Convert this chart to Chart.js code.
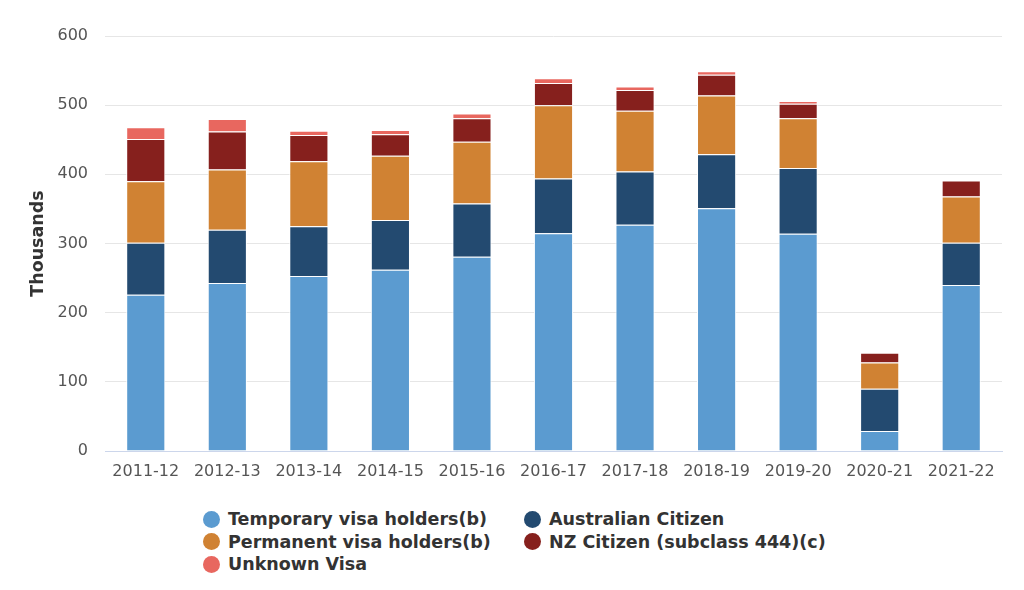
<!DOCTYPE html>
<html>
<head>
<meta charset="utf-8">
<script src="https://cdn.jsdelivr.net/npm/chart.js@4.4.1/dist/chart.umd.min.js"></script>
<style>
  html, body { margin: 0; padding: 0; background: #fff; }
  #wrap { position: relative; width: 1024px; height: 590px; overflow: hidden; font-family: "DejaVu Sans", sans-serif; }
  #chart { position: absolute; left: 0; top: 0; }
  #legend { position: absolute; left: 203px; top: 508px; display: grid; grid-template-columns: 321px 300px; row-gap: 0; }
  .item { display: flex; align-items: center; height: 22.5px; font-weight: bold; font-size: 17.5px; color: #333; white-space: nowrap; }
  .dot { width: 17px; height: 17px; border-radius: 50%; margin-right: 8px; flex: none; }
</style>
</head>
<body>
<div id="wrap">
  <canvas id="chart"></canvas>
  <div id="legend"></div>
</div>
<script>
// financial years
var years = ['2011-12','2012-13','2013-14','2014-15','2015-16','2016-17','2017-18','2018-19','2019-20','2020-21','2021-22'];

// thousands
var temporary = [226, 243, 253, 262, 281, 315, 327, 351, 314, 29, 240];
var australian = [75, 77, 72, 72, 77, 79, 77, 78, 95, 61, 61];
var permanent = [89, 87, 94, 93, 89, 106, 88, 85, 72, 38, 67];
var nzCitizen = [61, 55, 38, 31, 34, 32, 30, 30, 21, 14, 23];
var unknown = [17, 18, 6, 6, 7, 7, 5, 5, 4, 0, 0];

var yTicks = [0, 100, 200, 300, 400, 500, 600];

var series = [
  { label: 'Temporary visa holders(b)', data: temporary, color: '#5b9bd0' },
  { label: 'Australian Citizen', data: australian, color: '#234a70' },
  { label: 'Permanent visa holders(b)', data: permanent, color: '#d08233' },
  { label: 'NZ Citizen (subclass 444)(c)', data: nzCitizen, color: '#86201d' },
  { label: 'Unknown Visa', data: unknown, color: '#e8675f' }
];

var canvas = document.getElementById('chart');
canvas.width = 1024;
canvas.height = 480;
canvas.style.width = '1024px';
canvas.style.height = '480px';

var chart = new Chart(canvas.getContext('2d'), {
  type: 'bar',
  data: {
    labels: years,
    datasets: series.map(function(s) {
      return {
        label: s.label,
        data: s.data,
        backgroundColor: s.color,
        borderColor: '#ffffff',
        borderWidth: 1,
        barPercentage: 0.48,
        categoryPercentage: 1
      };
    })
  },
  options: {
    responsive: false,
    animation: false,
    devicePixelRatio: 1,
    layout: { padding: { left: 12, right: 22, top: 36, bottom: 0 } },
    plugins: {
      legend: { display: false },
      tooltip: { enabled: false }
    },
    scales: {
      x: {
        stacked: true,
        grid: { display: false, drawTicks: false },
        border: { color: '#ccd6eb', width: 1 },
        ticks: { color: '#555', font: { family: 'DejaVu Sans', size: 16 }, padding: 11, maxRotation: 0, autoSkip: false },
        afterFit: function(axis) { axis.height = 29; }
      },
      y: {
        stacked: true,
        min: 0,
        max: 600,
        afterBuildTicks: function(axis) { axis.ticks = yTicks.map(function(v) { return { value: v }; }); },
        grid: { color: '#e6e6e6', drawTicks: false },
        border: { display: false },
        ticks: { color: '#555', font: { family: 'DejaVu Sans', size: 16 }, padding: 17 },
        title: { display: true, text: 'Thousands', color: '#333', font: { family: 'DejaVu Sans', size: 17.5, weight: 'bold' }, padding: { top: 16, bottom: 0 } },
        afterFit: function(axis) { axis.width = 93; }
      }
    }
  }
});

// legend laid out in two columns like the original
var legend = document.getElementById('legend');
series.forEach(function(s) {
  var item = document.createElement('div');
  item.className = 'item';
  item.innerHTML = '<span class="dot" style="background:' + s.color + '"></span>' + s.label;
  legend.appendChild(item);
});
</script>
</body>
</html>
